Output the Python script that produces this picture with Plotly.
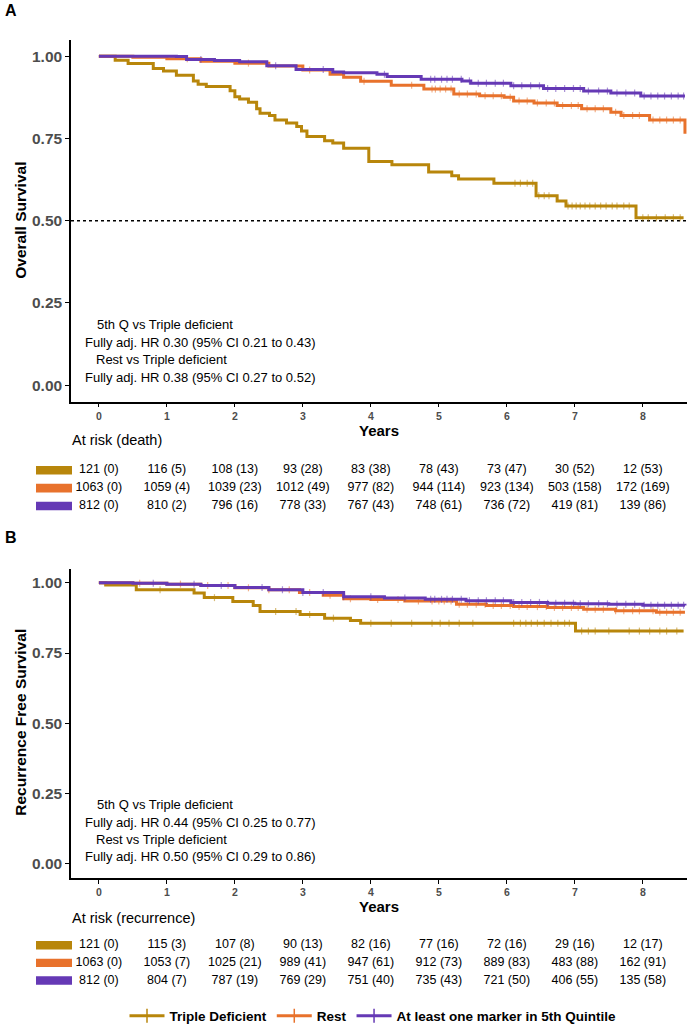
import plotly.graph_objects as go

# ---------------- data ----------------
years = [0, 1, 2, 3, 4, 5, 6, 7, 8]
group_names = ["Triple Deficient", "Rest", "At least one marker in 5th Quintile"]
group_colors = ["#B8860B", "#E8722C", "#6539B5"]

# Overall survival (panel A) step curves
os_triple_t = [0, 0.24, 0.43, 0.8, 0.95, 1.14, 1.39, 1.46, 1.58, 1.93, 2.0, 2.07, 2.2, 2.32, 2.37, 2.51,
               2.59, 2.76, 2.91, 2.98, 3.06, 3.32, 3.44, 3.6, 3.97, 4.31, 4.85, 5.19, 5.29, 5.81, 6.43,
               6.74, 6.87, 7.9, 8.6]
os_triple_s = [1.0, 0.988, 0.978, 0.963, 0.955, 0.942, 0.925, 0.915, 0.908, 0.895, 0.877, 0.87, 0.86,
               0.84, 0.827, 0.82, 0.806, 0.797, 0.786, 0.773, 0.756, 0.743, 0.736, 0.72, 0.68, 0.67,
               0.648, 0.637, 0.627, 0.614, 0.576, 0.56, 0.545, 0.509, 0.509]
os_rest_t = [0, 0.5, 1.0, 1.5, 2.0, 2.5, 3.0, 3.4, 3.6, 3.85, 4.3, 4.78, 5.22, 5.6, 5.96, 6.1, 6.4,
             6.74, 7.1, 7.53, 7.68, 8.1, 8.6, 8.62]
os_rest_s = [1.0, 0.997, 0.992, 0.985, 0.979, 0.97, 0.958, 0.945, 0.936, 0.924, 0.912, 0.9, 0.885,
             0.88, 0.875, 0.864, 0.858, 0.85, 0.84, 0.83, 0.82, 0.806, 0.806, 0.764]
os_q5_t = [0, 1.14, 1.29, 1.7, 2.07, 2.47, 2.9, 3.44, 3.6, 4.09, 4.24, 4.74, 5.34, 5.47, 6.06, 6.54,
           7.13, 7.53, 7.97, 8.62]
os_q5_s = [1.0, 0.999, 0.99, 0.987, 0.983, 0.971, 0.96, 0.952, 0.95, 0.945, 0.938, 0.93, 0.925,
           0.918, 0.91, 0.902, 0.894, 0.888, 0.879, 0.879]

# censoring times (panel A)
os_triple_cens = [6.12, 6.2, 6.3, 6.38, 6.47, 6.55, 6.62, 6.9, 6.96, 7.02, 7.08, 7.15, 7.22, 7.3,
                  7.38, 7.46, 7.55, 7.62, 7.72, 7.8, 8.0, 8.08, 8.2, 8.33, 8.45, 8.55]
os_rest_cens = [1.3, 2.2, 3.1, 3.9, 4.6, 4.9, 4.95, 5.02, 5.1, 5.18, 5.3, 5.42, 5.55, 5.68, 5.8, 5.92,
                6.05, 6.18, 6.3, 6.45, 6.58, 6.7, 6.82, 6.95, 7.05, 7.18, 7.3, 7.42, 7.6, 7.72, 7.85,
                7.95, 8.15, 8.25, 8.35, 8.45, 8.55]
os_q5_cens = [1.5, 2.6, 3.3, 4.2, 4.88, 4.94, 5.04, 5.12, 5.2, 5.33, 5.45, 5.58, 5.7, 5.83, 5.95, 6.1,
              6.22, 6.35, 6.48, 6.6, 6.72, 6.85, 6.98, 7.08, 7.2, 7.35, 7.48, 7.62, 7.75, 7.88, 8.02,
              8.12, 8.22, 8.32, 8.42, 8.52, 8.6]

# Recurrence free survival (panel B) step curves
rfs_triple_t = [0, 0.1, 0.55, 1.4, 1.55, 1.97, 2.27, 2.37, 2.96, 3.32, 3.7, 3.85, 7.01, 8.6]
rfs_triple_s = [1.0, 0.992, 0.975, 0.963, 0.947, 0.933, 0.919, 0.898, 0.887, 0.874, 0.866, 0.856,
                0.828, 0.828]
rfs_rest_t = [0, 0.5, 1.0, 1.5, 2.0, 2.5, 2.95, 3.3, 3.6, 4.0, 4.5, 5.26, 5.7, 6.1, 6.6, 7.13, 7.6,
              8.2, 8.62]
rfs_rest_s = [1.0, 0.998, 0.995, 0.99, 0.982, 0.975, 0.965, 0.955, 0.943, 0.94, 0.935, 0.923, 0.919,
              0.915, 0.912, 0.906, 0.9, 0.895, 0.895]
rfs_q5_t = [0, 0.5, 1.0, 1.5, 2.0, 2.5, 3.0, 3.6, 4.2, 4.8, 5.4, 6.06, 6.6, 7.0, 7.5, 8.0, 8.62]
rfs_q5_s = [1.0, 0.998, 0.995, 0.99, 0.983, 0.975, 0.965, 0.95, 0.946, 0.941, 0.936, 0.93, 0.927,
            0.925, 0.923, 0.92, 0.919]

rfs_triple_cens = [0.9, 1.7, 2.6, 2.9, 3.1, 3.45, 4.0, 4.3, 4.6, 4.9, 5.02, 5.15, 5.3, 5.5, 6.1, 6.2,
                   6.28, 6.36, 6.45, 6.55, 6.65, 6.75, 6.85, 6.92, 7.1, 7.2, 7.3, 7.5, 7.8, 7.95,
                   8.1, 8.25, 8.35, 8.5]
rfs_rest_cens = [0.6, 1.2, 1.6, 1.9, 2.2, 2.5, 2.8, 3.1, 3.4, 3.7, 4.1, 4.4, 4.7, 4.9, 5.0, 5.08,
                 5.18, 5.3, 5.42, 5.55, 5.68, 5.8, 5.92, 6.05, 6.18, 6.3, 6.45, 6.58, 6.7, 6.82,
                 6.95, 7.05, 7.18, 7.3, 7.42, 7.6, 7.72, 7.85, 7.95, 8.15, 8.25, 8.35, 8.45, 8.55]
rfs_q5_cens = [0.8, 1.4, 1.8, 2.4, 2.7, 3.0, 3.3, 3.6, 4.0, 4.5, 4.88, 4.94, 5.04, 5.12, 5.2, 5.33,
               5.45, 5.58, 5.7, 5.83, 5.95, 6.1, 6.22, 6.35, 6.48, 6.6, 6.72, 6.85, 6.98, 7.08,
               7.2, 7.35, 7.48, 7.62, 7.75, 7.88, 8.02, 8.12, 8.22, 8.32, 8.42, 8.52, 8.6]

# Numbers at risk (events)
os_risk_triple = ["121 (0)", "116 (5)", "108 (13)", "93 (28)", "83 (38)", "78 (43)", "73 (47)", "30 (52)", "12 (53)"]
os_risk_rest = ["1063 (0)", "1059 (4)", "1039 (23)", "1012 (49)", "977 (82)", "944 (114)", "923 (134)", "503 (158)", "172 (169)"]
os_risk_q5 = ["812 (0)", "810 (2)", "796 (16)", "778 (33)", "767 (43)", "748 (61)", "736 (72)", "419 (81)", "139 (86)"]
rfs_risk_triple = ["121 (0)", "115 (3)", "107 (8)", "90 (13)", "82 (16)", "77 (16)", "72 (16)", "29 (16)", "12 (17)"]
rfs_risk_rest = ["1063 (0)", "1053 (7)", "1025 (21)", "989 (41)", "947 (61)", "912 (73)", "889 (83)", "483 (88)", "162 (91)"]
rfs_risk_q5 = ["812 (0)", "804 (7)", "787 (19)", "769 (29)", "751 (40)", "735 (43)", "721 (50)", "406 (55)", "135 (58)"]

os_hr_text = ["5th Q vs Triple deficient", "Fully adj. HR 0.30 (95% CI 0.21 to 0.43)",
              "Rest vs Triple deficient", "Fully adj. HR 0.38 (95% CI 0.27 to 0.52)"]
rfs_hr_text = ["5th Q vs Triple deficient", "Fully adj. HR 0.44 (95% CI 0.25 to 0.77)",
               "Rest vs Triple deficient", "Fully adj. HR 0.50 (95% CI 0.29 to 0.86)"]

y_ticks = [0, 0.25, 0.5, 0.75, 1.0]
y_ticklabels = ["0.00", "0.25", "0.50", "0.75", "1.00"]

# ---------------- layout helpers ----------------
W, H = 688, 1032
FONT = "Liberation Sans, Arial, sans-serif"
XR = [-0.41, 8.65]


def px_x(p):
    return p / W


def px_y(p):
    return 1 - p / H


def step_at(ts, ss, t):
    idx = 0
    for i, v in enumerate(ts):
        if v <= t:
            idx = i
    return ss[idx]


fig = go.Figure()

panels = [
    ("x", "y", [(os_triple_t, os_triple_s, os_triple_cens), (os_rest_t, os_rest_s, os_rest_cens),
                (os_q5_t, os_q5_s, os_q5_cens)]),
    ("x3", "y3", [(rfs_triple_t, rfs_triple_s, rfs_triple_cens), (rfs_rest_t, rfs_rest_s, rfs_rest_cens),
                  (rfs_q5_t, rfs_q5_s, rfs_q5_cens)]),
]

for xa, ya, curves in panels:
    for (ts, ss, cens), col in zip(curves, group_colors):
        fig.add_trace(go.Scatter(x=ts, y=ss, mode="lines", line=dict(color=col, width=3, shape="hv"),
                                 xaxis=xa, yaxis=ya, showlegend=False, hoverinfo="skip"))
        fig.add_trace(go.Scatter(x=cens, y=[step_at(ts, ss, c) for c in cens], mode="markers",
                                 marker=dict(symbol="line-ns-open", size=5, color=col,
                                             line=dict(color=col, width=1.2)),
                                 opacity=0.55, xaxis=xa, yaxis=ya, showlegend=False, hoverinfo="skip"))

# risk tables
tables = [("x2", "y2", [os_risk_triple, os_risk_rest, os_risk_q5]),
          ("x4", "y4", [rfs_risk_triple, rfs_risk_rest, rfs_risk_q5])]
for xa, ya, rows in tables:
    for i, row in enumerate(rows):
        fig.add_trace(go.Scatter(x=years, y=[3 - i] * len(years), text=row, mode="text",
                                 textfont=dict(family=FONT, size=12.5, color="black"),
                                 xaxis=xa, yaxis=ya, showlegend=False, hoverinfo="skip"))

# legend entries
for name, col in zip(group_names, group_colors):
    fig.add_trace(go.Scatter(x=[None], y=[None], mode="lines+markers", name=name,
                             line=dict(color=col, width=3),
                             marker=dict(symbol="line-ns-open", size=10, color=col,
                                         line=dict(color=col, width=1.5))))

axis_common = dict(showline=True, linecolor="black", linewidth=1.5, ticks="outside", ticklen=4,
                   tickcolor="black", tickwidth=1.2, showgrid=False, zeroline=False)
xdom = [px_x(71), px_x(687)]

fig.update_layout(
    width=W, height=H, margin=dict(l=0, r=0, t=0, b=0),
    plot_bgcolor="white", paper_bgcolor="white",
    font=dict(family=FONT, color="black"),
    xaxis=dict(domain=xdom, range=XR, anchor="y", tickvals=years,
               tickfont=dict(family=FONT, size=10.5, color="#4D4D4D", weight="bold"), **axis_common),
    yaxis=dict(domain=[px_y(404), px_y(40)], range=[-0.05, 1.05], anchor="x", tickvals=y_ticks,
               ticktext=y_ticklabels,
               tickfont=dict(family=FONT, size=15.5, color="#4D4D4D", weight="bold"), **axis_common),
    xaxis2=dict(domain=xdom, range=XR, anchor="y2", visible=False),
    yaxis2=dict(domain=[px_y(518), px_y(464)], range=[0.5, 3.5], anchor="x2", visible=False),
    xaxis3=dict(domain=xdom, range=XR, anchor="y3", tickvals=years,
                tickfont=dict(family=FONT, size=10.5, color="#4D4D4D", weight="bold"), **axis_common),
    yaxis3=dict(domain=[px_y(883), px_y(572)], range=[-0.05, 1.05], anchor="x3", tickvals=y_ticks,
                ticktext=y_ticklabels,
                tickfont=dict(family=FONT, size=15.5, color="#4D4D4D", weight="bold"), **axis_common),
    xaxis4=dict(domain=xdom, range=XR, anchor="y4", visible=False),
    yaxis4=dict(domain=[px_y(995), px_y(942)], range=[0.5, 3.5], anchor="x4", visible=False),
    legend=dict(orientation="h", x=px_x(373), xanchor="center", y=px_y(1022), yanchor="middle",
                font=dict(family=FONT, size=13.5, color="black", weight="bold"),
                bgcolor="rgba(0,0,0,0)", itemwidth=35, tracegroupgap=0),
)

shapes = []
# median dotted line in panel A
shapes.append(dict(type="line", xref="x domain", yref="y", x0=0, x1=1, y0=0.5, y1=0.5,
                   line=dict(color="black", width=1.5, dash="dot"), layer="below"))
# colour keys in risk tables
for ya in ["y2", "y4"]:
    for i, col in enumerate(group_colors):
        r = 3 - i
        shapes.append(dict(type="rect", xref="paper", yref=ya, x0=px_x(36), x1=px_x(72),
                           y0=r - 0.24, y1=r + 0.24, fillcolor=col, line=dict(width=0)))
fig.update_layout(shapes=shapes)

ann = []
# panel letters
ann.append(dict(text="<b>A</b>", x=px_x(3), y=px_y(11), xref="paper", yref="paper", xanchor="left",
                yanchor="middle", showarrow=False, font=dict(size=16, color="black")))
ann.append(dict(text="<b>B</b>", x=px_x(3), y=px_y(541), xref="paper", yref="paper", xanchor="left",
                yanchor="middle", showarrow=False, font=dict(size=16, color="black")))
# y titles
ann.append(dict(text="<b>Overall Survival</b>", x=px_x(21), y=px_y(222), xref="paper", yref="paper",
                xanchor="center", yanchor="middle",
                textangle=-90, showarrow=False, font=dict(size=15.5, color="black")))
ann.append(dict(text="<b>Recurrence Free Survival</b>", x=px_x(21), y=px_y(727), xref="paper",
                yref="paper", xanchor="center", yanchor="middle",
                textangle=-90, showarrow=False, font=dict(size=15.5, color="black")))
# x titles
ann.append(dict(text="<b>Years</b>", x=px_x(379), y=px_y(433), xref="paper", yref="paper",
                xanchor="center", yanchor="middle", showarrow=False, font=dict(size=15, color="black")))
ann.append(dict(text="<b>Years</b>", x=px_x(379), y=px_y(912), xref="paper", yref="paper",
                xanchor="center", yanchor="middle", showarrow=False, font=dict(size=15, color="black")))
# at risk titles
ann.append(dict(text="At risk (death)", x=px_x(70), y=px_y(443), xref="paper", yref="paper",
                xanchor="left", yanchor="middle", showarrow=False, font=dict(size=14.5, color="black")))
ann.append(dict(text="At risk (recurrence)", x=px_x(70), y=px_y(923), xref="paper", yref="paper",
                xanchor="left", yanchor="middle", showarrow=False, font=dict(size=14.5, color="black")))
# HR text
os_hr_y = [0.185, 0.13, 0.078, 0.024]
rfs_hr_y = [0.211, 0.148, 0.088, 0.025]
hr_x = [-0.05, -0.235, -0.07, -0.235]
for txts, ys, xa, ya in [(os_hr_text, os_hr_y, "x", "y"), (rfs_hr_text, rfs_hr_y, "x3", "y3")]:
    for t, yv, xv in zip(txts, ys, hr_x):
        ann.append(dict(text=t, x=xv, y=yv, xref=xa, yref=ya, xanchor="left", yanchor="middle",
                        showarrow=False, font=dict(size=13, color="black")))
fig.update_layout(annotations=ann)

fig.write_html("out.html", config={"displayModeBar": False},
               post_script="document.body.style.margin='0';document.body.style.overflow='hidden';")
